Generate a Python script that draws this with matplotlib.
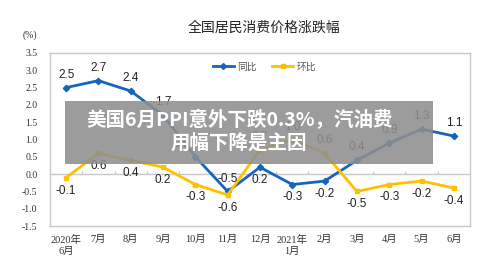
import matplotlib
matplotlib.use("Agg")
import matplotlib.pyplot as plt
import numpy as np
from matplotlib.patches import Rectangle
from matplotlib.lines import Line2D

months = ["2020年\n6月", "7月", "8月", "9月", "10月", "11月", "12月",
          "2021年\n1月", "2月", "3月", "4月", "5月", "6月"]
yoy = [2.5, 2.7, 2.4, 1.7, 0.5, -0.5, 0.2, -0.3, -0.2, 0.4, 0.9, 1.3, 1.1]
mom = [-0.1, 0.6, 0.4, 0.2, -0.3, -0.6, 0.7, 1.0, 0.6, -0.5, -0.3, -0.2, -0.4]
yoy_pos = ["a", "a", "a", "a", "al", "a", "b", "b", "b", "a", "a", "a", "a"]
mom_pos = ["b", "b", "b", "b", "b", "b", "a", "a", "a", "b", "b", "b", "b"]
yticks = [-1.5, -1.0, -0.5, 0.0, 0.5, 1.0, 1.5, 2.0, 2.5, 3.0, 3.5]

BLUE = "#1565C0"
YEL = "#FFC000"
SERIF = ["Liberation Serif", "Noto Sans CJK SC"]
SANS = ["Liberation Sans", "Noto Sans CJK SC"]
CJK = ["Noto Sans CJK SC", "DejaVu Sans"]

fig = plt.figure(figsize=(5, 2.66), dpi=100)
ax = fig.add_axes([0.1, 0.150, 0.84, 0.651])
x = np.arange(len(months))

ax.axhline(0, color="#c8c8c8", lw=1.0, zorder=1)
ax.vlines(x[:-1] + 0.5, 0, 0.08, color="#c8c8c8", lw=0.8, zorder=1)

ax.plot(x, yoy, color=BLUE, lw=2, marker="D", ms=3.2, zorder=3, label="同比")
ax.plot(x, mom, color=YEL, lw=2, marker="s", ms=3.2, zorder=3, label="环比")

def lab(vals, pos):
    for i, (v, p) in enumerate(zip(vals, pos)):
        if p == "a":
            ax.annotate(f"{v:.1f}", (i, v), xytext=(0, 5), textcoords="offset points",
                        ha="center", va="bottom", fontsize=8.5, family=SANS, color="#222222")
        elif p == "al":
            ax.annotate(f"{v:.1f}", (i, v), xytext=(-4, 5), textcoords="offset points",
                        ha="right", va="bottom", fontsize=8.5, family=SANS, color="#222222")
        else:
            ax.annotate(f"{v:.1f}", (i, v), xytext=(0, -5), textcoords="offset points",
                        ha="center", va="top", fontsize=8.5, family=SANS, color="#222222")

lab(yoy, yoy_pos)
lab(mom, mom_pos)

ax.set_xlim(-0.5, len(months) - 0.5)
ax.set_ylim(-1.5, 3.5)
ax.set_yticks(yticks)
ax.set_yticklabels([f"{t:.1f}" for t in yticks], family=SERIF, fontsize=7, color="#333333")
ax.set_xticks(x)
ax.set_xticklabels(months, family=SERIF, fontsize=7.5, color="#333333", linespacing=1.3)
ax.tick_params(axis="x", length=0, pad=6)
ax.tick_params(axis="y", length=0, pad=9)
for s in ax.spines.values():
    s.set_color("#c8c8c8")
    s.set_linewidth(1.0)

handles = [Line2D([], [], color=BLUE, lw=2, marker="D", ms=3),
           Line2D([], [], color=YEL, lw=2, marker="s", ms=3)]
leg = ax.legend(handles, ["同比", "环比"], loc="upper center", bbox_to_anchor=(0.51, 1.0),
                ncol=2, frameon=False, prop={"family": CJK, "size": 7},
                handlelength=2.2, columnspacing=1.6, handletextpad=0.3)
for t in leg.get_texts():
    t.set_color("#555555")

fig.text(0.528, 0.895, "全国居民消费价格涨跌幅", ha="center", va="center",
         family=CJK, fontsize=10, color="#222222")
fig.text(0.06, 0.868, "(%)", ha="center", va="center", family=SERIF, fontsize=7, color="#333333")

fig.patches.append(Rectangle((0.13, 0.383), 0.736, 0.237, transform=fig.transFigure,
                             facecolor="#8f8f8f", alpha=0.88, edgecolor="none", zorder=10))
fig.text(0.48, 0.55, "美国6月PPI意外下跌0.3%，汽油费", ha="center", va="center",
         family=CJK, fontsize=14, fontweight="bold", color="white", zorder=11)
fig.text(0.477, 0.463, "用幅下降是主因", ha="center", va="center",
         family=CJK, fontsize=14, fontweight="bold", color="white", zorder=11)

fig.savefig("out.png", dpi=100)
